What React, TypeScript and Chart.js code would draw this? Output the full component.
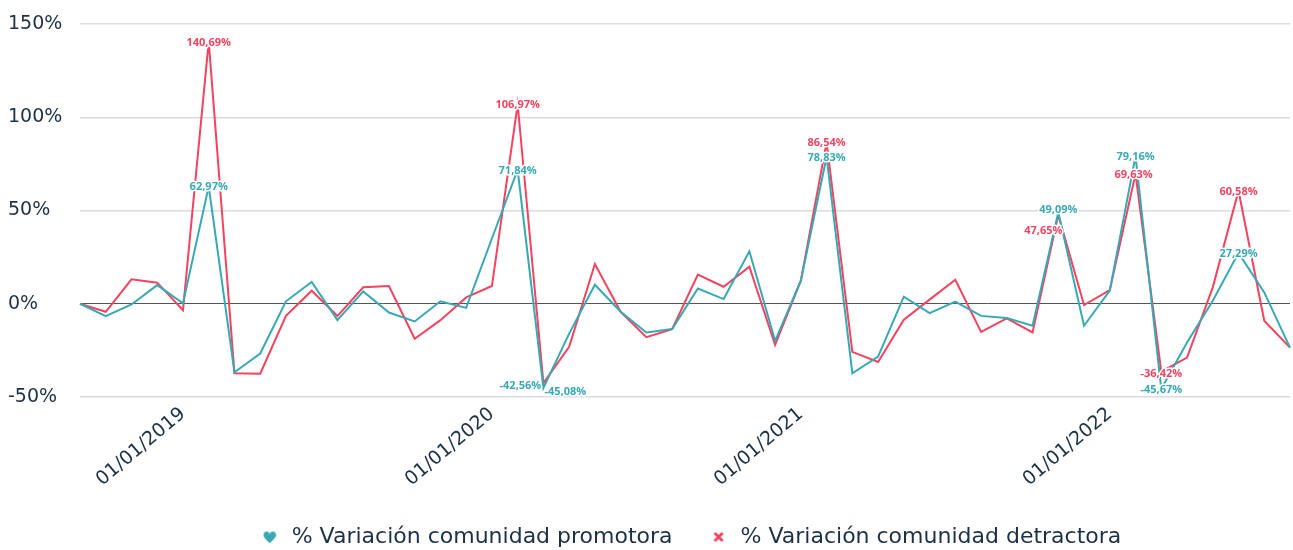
import React, { useEffect, useRef } from "react";
import { Chart, registerables } from "chart.js";

Chart.register(...registerables);

const months: string[] = [
  "01/09/2018", "01/10/2018", "01/11/2018", "01/12/2018",
  "01/01/2019", "01/02/2019", "01/03/2019", "01/04/2019", "01/05/2019", "01/06/2019",
  "01/07/2019", "01/08/2019", "01/09/2019", "01/10/2019", "01/11/2019", "01/12/2019",
  "01/01/2020", "01/02/2020", "01/03/2020", "01/04/2020", "01/05/2020", "01/06/2020",
  "01/07/2020", "01/08/2020", "01/09/2020", "01/10/2020", "01/11/2020", "01/12/2020",
  "01/01/2021", "01/02/2021", "01/03/2021", "01/04/2021", "01/05/2021", "01/06/2021",
  "01/07/2021", "01/08/2021", "01/09/2021", "01/10/2021", "01/11/2021", "01/12/2021",
  "01/01/2022", "01/02/2022", "01/03/2022", "01/04/2022", "01/05/2022", "01/06/2022",
  "01/07/2022", "01/08/2022",
];

const promotora: number[] = [
  0, -6.6, -0.4, 10, 0.2, 62.97, -36.7, -26.7, 1.3, 11.7,
  -8.8, 6.6, -4.7, -9.5, 1.3, -2.2, 35, 71.84, -45.08, -16,
  10.2, -4.3, -15.4, -13.6, 8.2, 2.5, 28.1, -19.9, 12.4, 78.83,
  -37.3, -28.3, 3.8, -5, 1.1, -6.5, -7.7, -11.8, 49.09, -11.8,
  7, 79.16, -45.67, -20.8, 1.6, 27.29, 6.1, -23.5,
];

const detractora: number[] = [
  0, -4.3, 13.1, 11.3, -3.4, 140.69, -37.3, -37.5, -6.5, 7,
  -6.6, 8.8, 9.5, -18.8, -8.8, 3.4, 9.5, 106.97, -42.56, -23.1,
  21.3, -4.3, -17.9, -13.6, 15.6, 9.1, 19.9, -22, 12.4, 86.54,
  -25.8, -31.2, -8.6, 2.2, 12.9, -15.1, -7.9, -15.4, 47.65, -0.7,
  7.3, 69.63, -36.42, -28.9, 8.8, 60.58, -9.1, -23.5,
];

const seriesNames: string[] = [
  "% Variación comunidad promotora",
  "% Variación comunidad detractora",
];

const yTicks: number[] = [-50, 0, 50, 100, 150];

const labelledPromotora: number[] = [5, 17, 18, 29, 38, 41, 42, 45];
const labelledDetractora: number[] = [5, 17, 18, 29, 38, 41, 42, 45];

const TEAL = "#38a9b4";
const RED = "#f2435f";
const TEXT = "#1d3146";

const labelOffsets: Record<string, [number, number, string?]> = {
  "0-38": [0, -2],
  "1-38": [-15, 16],
  "1-41": [-2, 1],
  "1-18": [-23, 3, TEAL],
  "0-18": [22, 4],
  "1-42": [0, 2],
};

function fmt(v: number): string {
  return v.toFixed(2).replace(".", ",") + "%";
}

function makeHeart(color: string): HTMLCanvasElement {
  const c = document.createElement("canvas");
  c.width = 14;
  c.height = 13;
  const g = c.getContext("2d")!;
  g.fillStyle = color;
  g.translate(0.5, 0.5);
  g.beginPath();
  g.moveTo(6.5, 12);
  g.bezierCurveTo(2, 8.2, 0, 6, 0.2, 3.5);
  g.bezierCurveTo(0.4, 1, 3, 0, 4.6, 0.8);
  g.bezierCurveTo(5.6, 1.3, 6.1, 2.1, 6.5, 2.9);
  g.bezierCurveTo(6.9, 2.1, 7.4, 1.3, 8.4, 0.8);
  g.bezierCurveTo(10, 0, 12.6, 1, 12.8, 3.5);
  g.bezierCurveTo(13, 6, 11, 8.2, 6.5, 12);
  g.closePath();
  g.fill();
  return c;
}

function makeCross(color: string): HTMLCanvasElement {
  const c = document.createElement("canvas");
  c.width = 12;
  c.height = 12;
  const g = c.getContext("2d")!;
  g.strokeStyle = color;
  g.lineWidth = 2.8;
  g.lineCap = "butt";
  g.beginPath();
  g.moveTo(2, 2);
  g.lineTo(10, 10);
  g.moveTo(10, 2);
  g.lineTo(2, 10);
  g.stroke();
  return c;
}

const valueLabels = {
  id: "valueLabels",
  afterDatasetsDraw(chart: any) {
    const ctx = chart.ctx;
    const lists = [labelledPromotora, labelledDetractora];
    ctx.save();
    ctx.font = "bold 11px 'Open Sans', 'DejaVu Sans', sans-serif";
    ctx.textAlign = "center";
    ctx.textBaseline = "middle";
    lists.forEach((idxs, s) => {
      const meta = chart.getDatasetMeta(s);
      const ds = chart.data.datasets[s];
      idxs.forEach((i) => {
        const pt = meta.data[i];
        if (!pt) return;
        const off = labelOffsets[`${s}-${i}`] || [0, 1];
        const x = pt.x + off[0];
        const y = pt.y + off[1];
        const txt = fmt(ds.data[i] as number);
        ctx.lineWidth = 3;
        ctx.strokeStyle = "#ffffff";
        ctx.lineJoin = "round";
        ctx.strokeText(txt, x, y);
        ctx.fillStyle = off[2] || (s === 0 ? TEAL : RED);
        ctx.fillText(txt, x, y);
      });
    });
    ctx.restore();
  },
};

const legendShift = {
  id: "legendShift",
  afterLayout(chart: any) {
    const lg = chart.legend;
    if (lg) {
      lg.left += 82;
    }
  },
};

export default function App() {
  const ref = useRef<HTMLCanvasElement | null>(null);

  useEffect(() => {
    if (!ref.current) return;
    const heart = makeHeart(TEAL);
    const cross = makeCross(RED);
    const chart = new Chart(ref.current, {
      type: "line",
      data: {
        labels: months,
        datasets: [
          {
            label: seriesNames[0],
            data: promotora,
            borderColor: TEAL,
            backgroundColor: TEAL,
            borderWidth: 2,
            pointRadius: 0,
            pointHoverRadius: 0,
            pointStyle: heart as any,
            tension: 0,
          },
          {
            label: seriesNames[1],
            data: detractora,
            borderColor: RED,
            backgroundColor: RED,
            borderWidth: 2,
            pointRadius: 0,
            pointHoverRadius: 0,
            pointStyle: cross as any,
            tension: 0,
          },
        ],
      },
      options: {
        animation: false,
        responsive: true,
        maintainAspectRatio: false,
        layout: { padding: { left: 8, right: 3, top: 24, bottom: -8 } },
        plugins: {
          tooltip: { enabled: false },
          legend: {
            position: "bottom",
            labels: {
              usePointStyle: true,
              pointStyleWidth: 22,
              padding: 35,
              color: TEXT,
              font: { family: "'DejaVu Sans', sans-serif", size: 22 },
            },
          },
        },
        scales: {
          x: {
            type: "category",
            offset: false,
            grid: { display: false, drawTicks: false },
            border: { display: false },
            afterFit: (scale: any) => {
              scale.height = 94;
              scale.paddingRight = 0;
              scale.paddingLeft = 0;
            },
            ticks: {
              autoSkip: false,
              minRotation: 40,
              maxRotation: 40,
              padding: 6,
              color: TEXT,
              font: { family: "'DejaVu Sans', sans-serif", size: 19 },
              callback: function (this: any, _v: any, i: number) {
                const l = months[i];
                return l.startsWith("01/01/") ? l : "";
              },
            },
          },
          y: {
            min: -50,
            max: 150,
            afterBuildTicks: (scale: any) => {
              scale.ticks = yTicks.map((v) => ({ value: v }));
            },
            afterFit: (scale: any) => {
              scale.width = 72;
            },
            border: { display: false },
            grid: {
              drawTicks: false,
              color: (c: any) => (c.tick && c.tick.value === 0 ? "#555555" : "#dcdcdc"),
              lineWidth: (c: any) => (c.tick && c.tick.value === 0 ? 1 : 1.5),
            },
            ticks: {
              crossAlign: "far",
              color: TEXT,
              font: { family: "'DejaVu Sans', sans-serif", size: 19 },
              callback: (v: any) => v + "%",
            },
          },
        },
      },
      plugins: [valueLabels, legendShift],
    });
    return () => chart.destroy();
  }, []);

  return (
    <div style={{ position: "absolute", left: 0, top: 0, width: 1293, height: 550 }}>
      <canvas ref={ref} />
    </div>
  );
}
